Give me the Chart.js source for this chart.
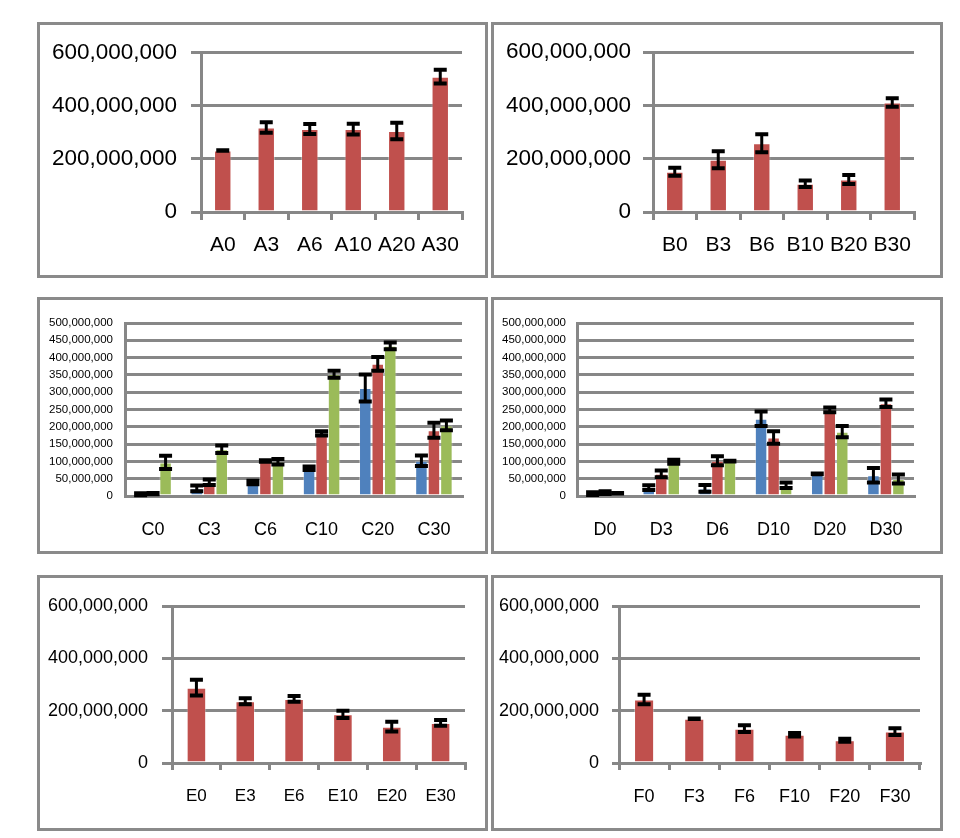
<!DOCTYPE html>
<html>
<head>
<meta charset="utf-8">
<script src="https://cdn.jsdelivr.net/npm/chart.js@4.4.1/dist/chart.umd.min.js"></script>
<style>
  body { margin: 0; background: #fff; }
  #page { position: relative; width: 960px; height: 838px; overflow: hidden; }
  .frame { position: absolute; border: 3px solid #8a8a8a; box-sizing: border-box; background: #fff; }
  .frame canvas { display: block; }
</style>
</head>
<body>
<div id="page">
  <div class="frame" style="left:37px;top:22px;width:451px;height:256px"><canvas id="chartA" width="445" height="250"></canvas></div>
  <div class="frame" style="left:491px;top:22px;width:452px;height:256px"><canvas id="chartB" width="446" height="250"></canvas></div>
  <div class="frame" style="left:37px;top:297px;width:451px;height:257px"><canvas id="chartC" width="445" height="251"></canvas></div>
  <div class="frame" style="left:491px;top:297px;width:452px;height:257px"><canvas id="chartD" width="446" height="251"></canvas></div>
  <div class="frame" style="left:37px;top:575px;width:451px;height:256px"><canvas id="chartE" width="445" height="250"></canvas></div>
  <div class="frame" style="left:491px;top:575px;width:452px;height:256px"><canvas id="chartF" width="446" height="250"></canvas></div>
</div>
<script>
// values (cells per sample), errors are +/- half range
const M = 1e6;

const aLabels = ['A0', 'A3', 'A6', 'A10', 'A20', 'A30'];
const aValues = [231, 318, 312, 312, 305, 509];
const aErrors = [1, 20, 19, 20, 31, 26];

const bLabels = ['B0', 'B3', 'B6', 'B10', 'B20', 'B30'];
const bValues = [151, 196, 258, 106, 122, 411];
const bErrors = [15, 32, 34, 12, 17, 16];

const cLabels = ['C0', 'C3', 'C6', 'C10', 'C20', 'C30'];
const cBlue = [5, 22, 39, 80, 312, 102];
const cBlueErr = [3, 8, 5, 5, 39, 15];
const cRed = [7, 40, 101, 181, 382, 190];
const cRedErr = [2, 8, 2, 6, 20, 22];
const cGreen = [97, 135, 99, 352, 434, 204];
const cGreenErr = [19, 11, 8, 10, 10, 14];

const dLabels = ['D0', 'D3', 'D6', 'D10', 'D20', 'D30'];
const dBlue = [7, 24, 22, 223, 64, 60];
const dBlueErr = [4, 7, 10, 21, 1, 21];
const dRed = [10, 64, 102, 169, 249, 268];
const dRedErr = [4, 10, 13, 18, 7, 11];
const dGreen = [8, 99, 101, 31, 186, 49];
const dGreenErr = [1, 6, 1, 8, 16, 13];

const eLabels = ['E0', 'E3', 'E6', 'E10', 'E20', 'E30'];
const eValues = [288, 236, 245, 186, 139, 153];
const eErrors = [30, 11, 11, 14, 19, 11];

const fLabels = ['F0', 'F3', 'F6', 'F10', 'F20', 'F30'];
const fValues = [243, 169, 131, 108, 87, 120];
const fErrors = [18, 1, 13, 7, 6, 13];

const RED = '#C0504D', BLUE = '#4F81BD', GREEN = '#9BBB59';
const GRID = '#878787';

const errorBars = {
  id: 'errorBars',
  afterDatasetsDraw(chart) {
    const ctx = chart.ctx;
    const y = chart.scales.y;
    chart.data.datasets.forEach((ds, i) => {
      const meta = chart.getDatasetMeta(i);
      meta.data.forEach((bar, j) => {
        const v = ds.data[j], e = ds.errors[j];
        const top = y.getPixelForValue(v + e);
        const bot = y.getPixelForValue(v - e);
        const x = bar.x, w = 6.5;
        ctx.save();
        ctx.strokeStyle = '#000';
        ctx.lineWidth = 3;
        ctx.beginPath();
        ctx.moveTo(x, top); ctx.lineTo(x, bot);
        ctx.stroke();
        ctx.lineWidth = 4;
        ctx.beginPath();
        ctx.moveTo(x - w, top); ctx.lineTo(x + w, top);
        ctx.moveTo(x - w, bot); ctx.lineTo(x + w, bot);
        ctx.stroke();
        ctx.restore();
      });
    });
  }
};

function ds(values, errors, color) {
  return {
    data: values.map(v => v * M),
    errors: errors.map(v => v * M),
    backgroundColor: color,
    borderColor: 'rgba(255,255,255,0.35)',
    borderWidth: 1
  };
}

function makeChart(id, labels, datasets, g) {
  new Chart(document.getElementById(id), {
    type: 'bar',
    data: { labels, datasets },
    plugins: [errorBars],
    options: {
      responsive: false,
      animation: false,
      events: [],
      layout: { padding: { left: 0, top: g.top, right: g.right, bottom: 0 } },
      plugins: { legend: { display: false }, tooltip: { enabled: false } },
      datasets: { bar: { barPercentage: g.barPct, categoryPercentage: g.catPct } },
      scales: {
        x: {
          afterFit: s => { s.height = g.xHeight; },
          grid: {
            drawOnChartArea: false, drawTicks: g.xTick > 0, tickLength: g.xTick,
            color: GRID, lineWidth: 3
          },
          border: { display: true, color: GRID, width: 3 },
          ticks: { color: '#000', padding: g.xPad, font: { family: g.font, size: g.xSize } }
        },
        y: {
          min: 0, max: g.max,
          afterFit: s => { s.width = g.left; },
          grid: { color: GRID, lineWidth: 3, tickLength: g.yTick, drawTicks: g.yTick > 0 },
          border: { display: true, color: GRID, width: 3 },
          ticks: {
            stepSize: g.step, color: '#000', padding: g.yPad,
            font: { family: g.font, size: g.ySize },
            callback: v => v.toLocaleString('en-US')
          }
        }
      }
    }
  });
}

const font = '"Liberation Sans", Arial, sans-serif';

const single = { max: 600 * M, step: 200 * M, barPct: 0.4, catPct: 1, yTick: 10, xTick: 8 };
const triple = { max: 500 * M, step: 50 * M, barPct: 1, catPct: 0.667, yTick: 0, xTick: 0 };

makeChart('chartA', aLabels, [ds(aValues, aErrors, RED)],
  Object.assign({}, single, { left: 161, right: 23, top: 27, xHeight: 63, xPad: 13, yPad: 14, font, xSize: 21, ySize: 22.5 }));
makeChart('chartB', bLabels, [ds(bValues, bErrors, RED)],
  Object.assign({}, single, { left: 159, right: 26, top: 27, xHeight: 63, xPad: 13, yPad: 12, font, xSize: 21, ySize: 22.5 }));
makeChart('chartC', cLabels, [ds(cBlue, cBlueErr, BLUE), ds(cRed, cRedErr, RED), ds(cGreen, cGreenErr, GREEN)],
  Object.assign({}, triple, { left: 85, right: 23, top: 23, xHeight: 55, xPad: 23, yPad: 12, font, xSize: 18, ySize: 11.5 }));
makeChart('chartD', dLabels, [ds(dBlue, dBlueErr, BLUE), ds(dRed, dRedErr, RED), ds(dGreen, dGreenErr, GREEN)],
  Object.assign({}, triple, { left: 83, right: 26, top: 23, xHeight: 55, xPad: 23, yPad: 11, font, xSize: 18, ySize: 11.5 }));
makeChart('chartE', eLabels, [ds(eValues, eErrors, RED)],
  Object.assign({}, single, { left: 132, right: 20, top: 28, xHeight: 65, xPad: 16, yPad: 14, xTick: 7, font, xSize: 17, ySize: 18 }));
makeChart('chartF', fLabels, [ds(fValues, fErrors, RED)],
  Object.assign({}, single, { left: 125, right: 20, top: 28, xHeight: 65, xPad: 16, yPad: 13, yTick: 7, xTick: 7, font, xSize: 18, ySize: 18 }));
</script>
</body>
</html>
